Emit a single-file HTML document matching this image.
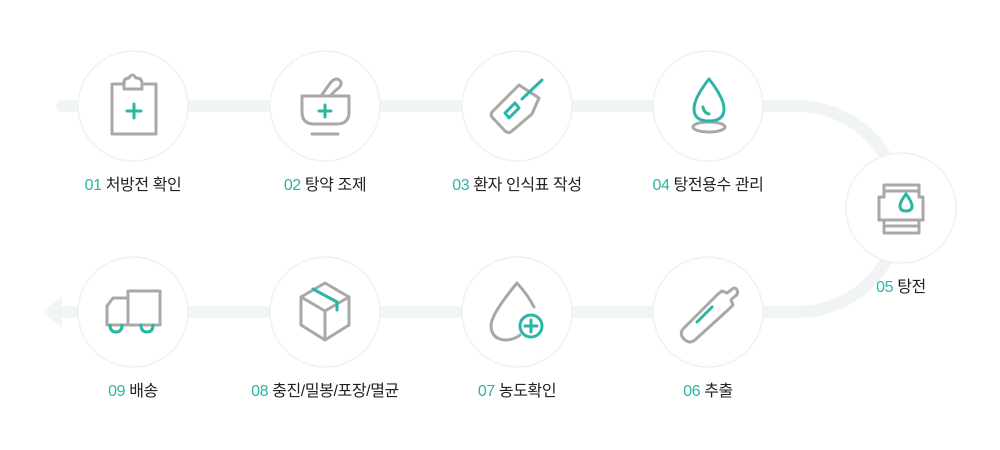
<!DOCTYPE html>
<html><head><meta charset="utf-8"><style>
body{margin:0;width:1000px;height:450px;background:#fff;overflow:hidden;position:relative;font-family:"Liberation Sans","Noto Sans CJK KR",sans-serif}
svg{position:absolute;left:0;top:0}
.l{position:absolute;font-size:16px;color:#222;white-space:nowrap;transform:translateX(-50%);letter-spacing:-0.4px}
.l b{font-weight:normal;color:#2bb5a5}
</style></head><body>
<svg width="1000" height="450" viewBox="0 0 1000 450">
<path d="M62 106 H797 A103 103 0 0 1 797 312 H60" fill="none" stroke="#f1f4f5" stroke-width="12" stroke-linecap="round"/>
<polygon points="43,312 62,296 62,328" fill="#f1f4f5"/>
<g fill="#fff" stroke="#eef2f2" stroke-width="1.5">
<circle cx="133" cy="106" r="55"/><circle cx="325" cy="106" r="55"/><circle cx="517" cy="106" r="55"/><circle cx="708" cy="106" r="55"/>
<circle cx="901" cy="208" r="55"/>
<circle cx="133" cy="312" r="55"/><circle cx="325" cy="312" r="55"/><circle cx="517" cy="312" r="55"/><circle cx="708" cy="312" r="55"/>
</g>
<g fill="none" stroke="#a8a8a8" stroke-width="3" stroke-linejoin="round" stroke-linecap="round">
<path d="M123 84 H112 V134 H156 V84 H145"/><path d="M124 89 V83 Q124 78 129 78 Q132 72 136 78 Q142 78 142 83 V89 Z"/>
<path d="M302 96 H349 V112 Q349 124 337 124 H314 Q302 124 302 112 Z"/><path d="M312 134 H338"/><path d="M321 96 L331 82 Q337 76 341 82 Q342 86 336 90 L330 96"/>
<path d="M519 85 L539 98 L532 114 L512 131 Q509 134 505 131 L492 117 Q490 114 493 111 L513 91 Z"/>
<ellipse cx="709" cy="127" rx="16" ry="5"/>
<path d="M884 185 H919 V197 H923 V220 H919 V233 H884 V220 H879 V197 H884 Z"/><path d="M884 191 H919 M879 220 H923 M884 226 H919"/>
<path d="M128 291 H160 V325 H107 V306 L113 298 H128 Z M128 298 V325"/>
<path d="M325 283 L349 297 V325 L325 340 L301 325 V297 Z"/><path d="M301 297 L325 311 L349 297 M325 311 V340"/>
<path d="M517 283 Q492 313 491 325 Q491 339 505 340 Q514 340 520 335 M517 283 Q528 295 534 307"/>
<path d="M685 327 L718 294 L722 291 L727 293 L731 290 Q735 286 737 290 Q739 294 734 297 L731 300 L733 305 L729 309 L696 339 Q690 345 684 339 Q678 333 685 327 Z"/>
</g>
<g fill="none" stroke="#2bb5a5" stroke-width="3" stroke-linecap="round" stroke-linejoin="round">
<path d="M134 104 V118 M127 111 H141"/>
<path d="M325 105 V117 M319 111 H331"/>
<path d="M505 113 L515 103 L519 108 L509 118 Z M522 99 L542 80"/>
<path d="M709 79 Q694 98 694 109 Q694 121 709 121 Q724 121 724 109 Q724 98 709 79 Z"/><path d="M703 107 Q704 113 709 114"/>
<path d="M906 194 Q900 202 900 206 Q900 211 906 211 Q912 211 912 206 Q912 202 906 194 Z"/>
<path d="M110 325 Q110 332 116 332 Q122 332 122 325 M141 325 Q141 332 147 332 Q153 332 153 325"/>
<path d="M313 289 L337 302 V310"/>
<circle cx="531" cy="326" r="11"/><path d="M531 320 V332 M525 326 H537"/>
<path d="M697 322 L712 307"/>
</g>
</svg>
<div class="l" style="left:133px;top:171px"><b>01</b> 처방전 확인</div>
<div class="l" style="left:325px;top:171px"><b>02</b> 탕약 조제</div>
<div class="l" style="left:517px;top:171px"><b>03</b> 환자 인식표 작성</div>
<div class="l" style="left:708px;top:171px"><b>04</b> 탕전용수 관리</div>
<div class="l" style="left:901px;top:273px"><b>05</b> 탕전</div>
<div class="l" style="left:133px;top:377px"><b>09</b> 배송</div>
<div class="l" style="left:325px;top:377px"><b>08</b> 충진/밀봉/포장/멸균</div>
<div class="l" style="left:517px;top:377px"><b>07</b> 농도확인</div>
<div class="l" style="left:708px;top:377px"><b>06</b> 추출</div>
</body></html>
